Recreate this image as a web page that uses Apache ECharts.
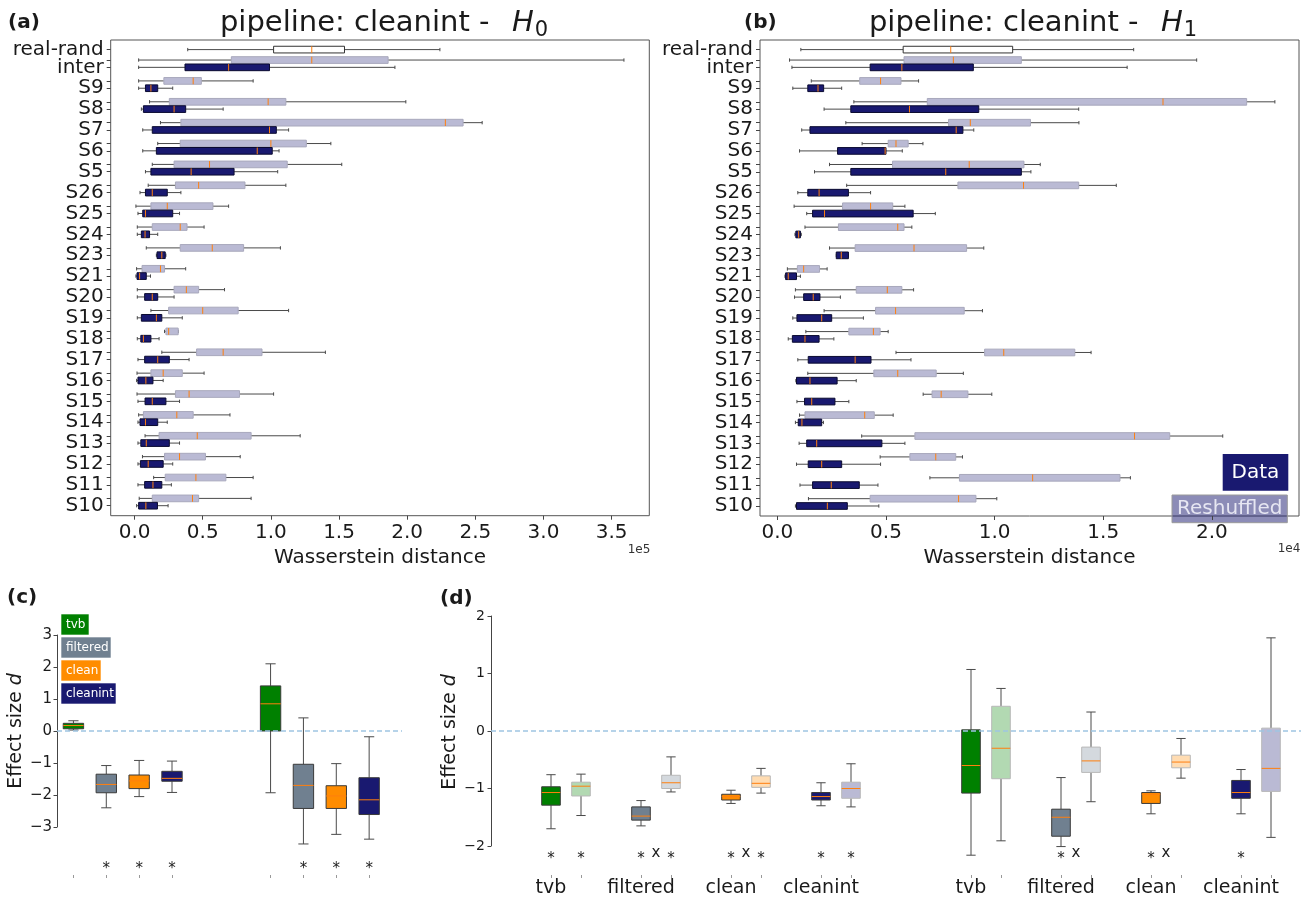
<!DOCTYPE html>
<html><head><meta charset="utf-8">
<script src="https://cdn.jsdelivr.net/npm/echarts@6/dist/echarts.min.js"></script>
<style>html,body{margin:0;padding:0;background:#fff}#c{width:1306px;height:899px}</style>
</head><body><div id="c"></div>
<script>
// ================= DATA =================
// Panels (a) and (b): categories, top to bottom (real-rand drawn above "inter")
const abCategories = ['inter','S9','S8','S7','S6','S5','S26','S25','S24','S23','S21','S20','S19','S18','S17','S16','S15','S14','S13','S12','S11','S10'];
const realRandLabel = 'real-rand';
// box stats: [whiskerLow, q1, median, q3, whiskerHigh]
// (a) H0, units of 1e5
const aRealRand = [0.39, 1.02, 1.30, 1.54, 2.24];
const aData = [
  [0.03,0.37,0.69,0.99,1.91],[0.03,0.08,0.12,0.17,0.28],[0.05,0.065,0.29,0.375,0.65],[0.06,0.13,0.99,1.04,1.13],
  [0.06,0.16,0.90,1.01,1.06],[0.08,0.12,0.415,0.73,1.05],[0.04,0.08,0.13,0.24,0.34],[0.025,0.06,0.08,0.28,0.33],
  [0.02,0.05,0.077,0.11,0.17],[0.16,0.165,0.20,0.225,0.23],[0.01,0.018,0.037,0.086,0.117],[0.02,0.074,0.13,0.17,0.29],
  [0.02,0.05,0.16,0.20,0.35],[0.02,0.046,0.065,0.12,0.18],[0.025,0.074,0.17,0.255,0.40],[0.015,0.025,0.083,0.135,0.21],
  [0.025,0.077,0.13,0.23,0.33],[0.025,0.04,0.08,0.17,0.24],[0.025,0.046,0.086,0.255,0.33],[0.025,0.043,0.10,0.21,0.28],
  [0.025,0.074,0.135,0.20,0.27],[0.015,0.03,0.083,0.168,0.246]
];
const aReshuffled = [
  [0.03,0.71,1.30,1.86,3.59],[0.03,0.215,0.43,0.49,0.87],[0.11,0.255,0.98,1.11,1.99],[0.19,0.34,2.28,2.41,2.55],
  [0.17,0.335,1.00,1.26,1.44],[0.13,0.29,0.55,1.12,1.52],[0.10,0.30,0.47,0.81,1.11],[0.01,0.12,0.24,0.575,0.69],
  [0.02,0.13,0.335,0.385,0.51],[0.086,0.335,0.57,0.80,1.07],[0.015,0.055,0.19,0.22,0.375],[0.02,0.29,0.38,0.47,0.66],
  [0.12,0.25,0.50,0.76,1.13],[0.22,0.23,0.25,0.32,0.32],[0.20,0.455,0.65,0.935,1.40],[0.018,0.12,0.21,0.35,0.51],
  [0.018,0.30,0.40,0.77,1.02],[0.03,0.065,0.31,0.43,0.70],[0.077,0.18,0.46,0.855,1.215],[0.058,0.22,0.33,0.52,0.775],
  [0.14,0.225,0.45,0.67,0.87],[0.034,0.13,0.425,0.47,0.855]
];
// (b) H1, units of 1e4
const bRealRand = [0.108, 0.579, 0.798, 1.083, 1.64];
const bData = [
  [0.067,0.427,0.573,0.902,1.61],[0.071,0.14,0.187,0.213,0.296],[0.215,0.338,0.608,0.927,1.387],[0.112,0.15,0.823,0.854,0.904],
  [0.102,0.277,0.496,0.50,0.575],[0.171,0.338,0.775,1.123,1.167],[0.094,0.14,0.192,0.327,0.429],[0.135,0.162,0.217,0.625,0.727],
  [0.081,0.085,0.098,0.106,0.11],[0.271,0.271,0.294,0.327,0.327],[0.035,0.038,0.05,0.088,0.106],[0.079,0.121,0.165,0.196,0.29],
  [0.071,0.09,0.204,0.25,0.396],[0.05,0.069,0.127,0.192,0.26],[0.094,0.142,0.358,0.431,0.615],[0.085,0.088,0.15,0.275,0.363],
  [0.09,0.125,0.158,0.265,0.329],[0.083,0.096,0.113,0.204,0.212],[0.10,0.135,0.181,0.481,0.587],[0.088,0.142,0.204,0.296,0.475],
  [0.104,0.162,0.248,0.377,0.463],[0.083,0.088,0.230,0.322,0.467]
];
const bReshuffled = [
  [0.056,0.583,0.81,1.123,1.93],[0.156,0.379,0.475,0.569,0.65],[0.352,0.69,1.775,2.16,2.29],[0.315,0.788,0.888,1.165,1.388],
  [0.39,0.51,0.546,0.602,0.67],[0.24,0.53,0.883,1.135,1.21],[0.319,0.831,1.133,1.387,1.56],[0.077,0.30,0.429,0.531,0.587],
  [0.127,0.281,0.554,0.583,0.619],[0.24,0.358,0.629,0.871,0.95],[0.046,0.092,0.121,0.194,0.229],[0.083,0.363,0.506,0.573,0.627],
  [0.215,0.452,0.544,0.86,0.944],[0.131,0.329,0.442,0.473,0.51],[0.546,0.954,1.042,1.369,1.444],[0.14,0.444,0.554,0.731,0.856],
  [0.671,0.712,0.754,0.877,0.987],[0.102,0.127,0.402,0.446,0.533],[0.388,0.633,1.644,1.806,2.05],[0.473,0.61,0.729,0.821,0.852],
  [0.702,0.838,1.175,1.577,1.625],[0.143,0.427,0.834,0.914,1.01]
];
const aTicks = [0,0.5,1,1.5,2,2.5,3,3.5];
const bTicks = [0,0.5,1,1.5,2];

// Panels (c) and (d)
const pipelines = ['tvb','filtered','clean','cleanint'];
const cGroup1 = [[0.03,0.07,0.17,0.24,0.32],[-2.40,-1.93,-1.67,-1.35,-1.08],[-2.05,-1.80,-1.56,-1.375,-0.92],[-1.92,-1.57,-1.48,-1.26,-0.94]];
const cGroup2 = [[-1.93,0.0,0.85,1.41,2.10],[-3.53,-2.42,-1.70,-1.04,0.41],[-3.23,-2.42,-2.03,-1.71,-1.02],[-3.38,-2.61,-2.15,-1.46,-0.18]];
const cSig1 = [false,true,true,true];
const cSig2 = [false,true,true,true];
const dGroup1Data = [[-1.70,-1.29,-1.07,-0.97,-0.76],[-1.65,-1.55,-1.48,-1.32,-1.21],[-1.26,-1.20,-1.14,-1.10,-1.03],[-1.30,-1.20,-1.14,-1.07,-0.90]];
const dGroup1Resh = [[-1.47,-1.13,-0.96,-0.89,-0.75],[-1.06,-1.00,-0.90,-0.77,-0.45],[-1.08,-0.98,-0.91,-0.78,-0.65],[-1.32,-1.17,-1.00,-0.89,-0.57]];
const dGroup2Data = [[-2.16,-1.08,-0.60,0.02,1.07],[-2.01,-1.83,-1.50,-1.36,-0.81],[-1.44,-1.26,-1.10,-1.07,-1.04],[-1.44,-1.17,-1.07,-0.86,-0.67]];
const dGroup2Resh = [[-1.91,-0.83,-0.30,0.43,0.74],[-1.23,-0.72,-0.52,-0.28,0.33],[-0.82,-0.64,-0.54,-0.42,-0.13],[-1.85,-1.05,-0.65,0.05,1.62]];
const dSigData1 = [true,true,true,true];
const dSigResh1 = [true,true,true,true];
const dSigData2 = [false,true,true,true];
const dSigResh2 = [false,false,false,false];
const dCross1 = [false,true,true,false];
const dCross2 = [false,true,true,false];

// ================= LAYOUT / STYLE =================
const FF = '"DejaVu Sans", sans-serif';
const TXT = '#1a1a1a';
const colors = ['#008000','#708090','#ff8c00','#191970'];
const lightColors = ['#b2d9b2','#d4d9de','#ffdcb2','#babad4'];
const LIGHT_OFF = 0.35, RR_POS = 21.85, BOX_H = 0.32, VBOX_W = 0.62;
const nCat = abCategories.length;
const catPos = i => nCat - 1 - i;

function labelFor(v) {
  if (Math.abs(v - RR_POS) < 1e-6) return realRandLabel;
  const i = nCat - 1 - Math.round(v);
  return abCategories[i] || '';
}
const abLabelVals = abCategories.map((c,i)=>catPos(i)).concat([RR_POS]);
const abTickVals = abCategories.map((c,i)=>catPos(i)).concat(abCategories.map((c,i)=>catPos(i)+LIGHT_OFF)).concat([RR_POS]);

function hBox(kind) {
  const sty = {data:{fill:'#191970', stroke:'#0a0a30'}, resh:{fill:'#babad4', stroke:'#a8a8bc'}, rr:{fill:'#ffffff', stroke:'#333'}}[kind];
  return function(params, api) {
    const y = api.value(0);
    const P = [1,2,3,4,5].map(i => api.coord([api.value(i), y]));
    const h = Math.abs(api.size([0, BOX_H])[1]);
    const cy = P[0][1], cap = h * 0.5, wc = '#4a4a4a';
    return {type:'group', children:[
      {type:'line', shape:{x1:P[0][0], y1:cy, x2:P[1][0], y2:cy}, style:{stroke:wc, lineWidth:1}},
      {type:'line', shape:{x1:P[3][0], y1:cy, x2:P[4][0], y2:cy}, style:{stroke:wc, lineWidth:1}},
      {type:'line', shape:{x1:P[0][0], y1:cy-cap/2, x2:P[0][0], y2:cy+cap/2}, style:{stroke:wc, lineWidth:1}},
      {type:'line', shape:{x1:P[4][0], y1:cy-cap/2, x2:P[4][0], y2:cy+cap/2}, style:{stroke:wc, lineWidth:1}},
      {type:'rect', shape:{x:P[1][0], y:cy-h/2, width:Math.max(P[3][0]-P[1][0],1), height:h}, style:{fill:sty.fill, stroke:sty.stroke, lineWidth:1}},
      {type:'line', shape:{x1:P[2][0], y1:cy-h/2, x2:P[2][0], y2:cy+h/2}, style:{stroke:'#ff7f0e', lineWidth:1}}
    ]};
  };
}
function vBox(palette, edge) {
  return function(params, api) {
    const x = api.value(0);
    const P = [1,2,3,4,5].map(i => api.coord([x, api.value(i)]));
    const w = Math.abs(api.size([VBOX_W, 0])[0]);
    const cx = P[0][0], cap = w * 0.5, wc = '#4a4a4a';
    const fill = palette[params.dataIndex % 4];
    return {type:'group', children:[
      {type:'line', shape:{x1:cx, y1:P[0][1], x2:cx, y2:P[1][1]}, style:{stroke:wc, lineWidth:1}},
      {type:'line', shape:{x1:cx, y1:P[3][1], x2:cx, y2:P[4][1]}, style:{stroke:wc, lineWidth:1}},
      {type:'line', shape:{x1:cx-cap/2, y1:P[0][1], x2:cx+cap/2, y2:P[0][1]}, style:{stroke:wc, lineWidth:1}},
      {type:'line', shape:{x1:cx-cap/2, y1:P[4][1], x2:cx+cap/2, y2:P[4][1]}, style:{stroke:wc, lineWidth:1}},
      {type:'rect', shape:{x:cx-w/2, y:P[3][1], width:w, height:Math.max(P[1][1]-P[3][1],1)}, style:{fill:fill, stroke:edge, lineWidth:1}},
      {type:'line', shape:{x1:cx-w/2, y1:P[2][1], x2:cx+w/2, y2:P[2][1]}, style:{stroke:'#ff7f0e', lineWidth:1}}
    ]};
  };
}
function markText(txt, size) {
  return function(params, api) {
    const p = api.coord([api.value(0), api.value(1)]);
    return {type:'text', x:p[0], y:p[1], style:{text:txt, font: size+'px '+FF, fill:'#222', align:'center', verticalAlign:'middle'}};
  };
}

// items
const aRRItem = [[RR_POS].concat(aRealRand)];
const bRRItem = [[RR_POS].concat(bRealRand)];
const aDataItems = aData.map((s,i)=>[catPos(i)].concat(s));
const aReshItems = aReshuffled.map((s,i)=>[catPos(i)+LIGHT_OFF].concat(s));
const bDataItems = bData.map((s,i)=>[catPos(i)].concat(s));
const bReshItems = bReshuffled.map((s,i)=>[catPos(i)+LIGHT_OFF].concat(s));
const cPos = (g,i) => 1 + g*6 + i;
const cItems = cGroup1.map((s,i)=>[cPos(0,i)].concat(s)).concat(cGroup2.map((s,i)=>[cPos(1,i)].concat(s)));
const cStarY = -4.32;
const cStars = [];
cSig1.forEach((f,i)=>{ if (f) cStars.push([cPos(0,i), cStarY]); });
cSig2.forEach((f,i)=>{ if (f) cStars.push([cPos(1,i), cStarY]); });
const dPos = (g,i) => 1 + g*14 + i*3;
const dDataItems = dGroup1Data.map((s,i)=>[dPos(0,i)].concat(s)).concat(dGroup2Data.map((s,i)=>[dPos(1,i)].concat(s)));
const dReshItems = dGroup1Resh.map((s,i)=>[dPos(0,i)+1].concat(s)).concat(dGroup2Resh.map((s,i)=>[dPos(1,i)+1].concat(s)));
const dStarY = -2.22, dCrossY = -2.13;
const dStars = [], dCrossPts = [];
[[dSigData1,0,0],[dSigResh1,0,1],[dSigData2,1,0],[dSigResh2,1,1]].forEach(([arr,g,off])=>arr.forEach((f,i)=>{ if (f) dStars.push([dPos(g,i)+off, dStarY]); }));
[[dCross1,0],[dCross2,1]].forEach(([arr,g])=>arr.forEach((f,i)=>{ if (f) dCrossPts.push([dPos(g,i)+0.5, dCrossY]); }));
const dLabelVals = [0,1].flatMap(g=>pipelines.map((p,i)=>dPos(g,i)));
const dTickVals = dLabelVals.concat(dLabelVals.map(v=>v+1));
const cTickVals = [0,1].flatMap(g=>pipelines.map((p,i)=>cPos(g,i)));

const minus = v => (v < 0 ? '\u2212' + Math.abs(v) : String(v));

// text measuring for titles
const mctx = document.createElement('canvas').getContext('2d');
function tw(t, font){ mctx.font = font; return mctx.measureText(t).width; }
function titleEls(cx, cy, sub) {
  const main = 'pipeline: cleanint -  ';
  const fM = '29px ' + FF, fI = 'italic 29px ' + FF, fS = '21px ' + FF;
  const wM = tw(main, fM) + 4, wH = tw('H', fI) + 1, wS = tw(sub, fS);
  const x0 = cx - (wM + wH + wS) / 2;
  return [
    {type:'text', x:x0, y:cy, style:{text:main, font:fM, fill:TXT, align:'left', verticalAlign:'middle'}},
    {type:'text', x:x0+wM, y:cy, style:{text:'H', font:fI, fill:TXT, align:'left', verticalAlign:'middle'}},
    {type:'text', x:x0+wM+wH, y:cy+8, style:{text:sub, font:fS, fill:TXT, align:'left', verticalAlign:'middle'}}
  ];
}

const gA = {left:110.7, top:40, width:538.6, height:475.7};
const gB = {left:760, top:40, width:539, height:476};
const gC = {left:57, top:635, width:345, height:192};
const gD = {left:491, top:616, width:810, height:230};

function abXAxis(grid, min, max, ticks) {
  return {type:'value', gridIndex:grid, min:min, max:max,
    axisLine:{show:false, onZero:false}, splitLine:{show:false},
    axisTick:{show:true, customValues:ticks, length:4, lineStyle:{color:'#444'}},
    axisLabel:{customValues:ticks, formatter:v=>v.toFixed(1), fontSize:20, fontFamily:FF, color:TXT, margin:7},
    name:'Wasserstein distance', nameLocation:'middle', nameGap:26,
    nameTextStyle:{fontSize:20, fontFamily:FF, color:TXT}};
}
function abYAxis(grid) {
  return {type:'value', gridIndex:grid, min:-0.479, max:22.31,
    axisLine:{show:false, onZero:false}, splitLine:{show:false},
    axisTick:{show:true, customValues:abTickVals, length:4, lineStyle:{color:'#444'}},
    axisLabel:{customValues:abLabelVals, formatter:labelFor, fontSize:20, fontFamily:FF, color:TXT, margin:7}};
}
const zeroLine = {silent:true, symbol:'none', label:{show:false}, data:[{yAxis:0}],
  lineStyle:{type:[5,3], color:'#9fc5e2', width:1.5}};

const legendC = [];
[['tvb',614,28],['filtered',637,50],['clean',660,40],['cleanint',683,55]].forEach(([t,y,w],i)=>{
  legendC.push({type:'rect', shape:{x:61, y:y, width:w, height:21}, style:{fill:colors[i], stroke:'rgba(255,255,255,0.6)', lineWidth:1}});
  legendC.push({type:'text', x:66, y:y+10.5, style:{text:t, font:'12px '+FF, fill:'#ffffff', align:'left', verticalAlign:'middle'}});
});

const option = {
  animation:false,
  backgroundColor:'#ffffff',
  textStyle:{fontFamily:FF},
  grid:[
    Object.assign({show:true, borderColor:'#555', borderWidth:1, outerBoundsMode:'none'}, gA),
    Object.assign({show:true, borderColor:'#555', borderWidth:1, outerBoundsMode:'none'}, gB),
    Object.assign({show:false, outerBoundsMode:'none'}, gC),
    Object.assign({show:false, outerBoundsMode:'none'}, gD)
  ],
  xAxis:[
    abXAxis(0, -0.175, 3.776, aTicks),
    abXAxis(1, -0.080, 2.401, bTicks),
    {type:'value', gridIndex:2, min:0.5, max:11, offset:48, axisLine:{show:false, onZero:false}, splitLine:{show:false},
      axisTick:{show:true, customValues:cTickVals, length:3, lineStyle:{color:'#999'}}, axisLabel:{show:false}},
    {type:'value', gridIndex:3, min:-1, max:26, offset:29, axisLine:{show:false, onZero:false}, splitLine:{show:false},
      axisTick:{show:true, customValues:dTickVals, length:3, lineStyle:{color:'#999'}},
      axisLabel:{customValues:dLabelVals, formatter:v=>pipelines[dLabelVals.indexOf(v) % 4] || '', fontSize:19, fontFamily:FF, color:TXT, margin:4}}
  ],
  yAxis:[
    abYAxis(0), abYAxis(1),
    {type:'value', gridIndex:2, min:-3, max:3, interval:1, splitLine:{show:false},
      axisLine:{show:true, onZero:false, lineStyle:{color:'#444'}}, axisTick:{show:true, length:3.5, lineStyle:{color:'#444'}},
      axisLabel:{formatter:minus, fontSize:15, fontFamily:FF, color:TXT, margin:5}},
    {type:'value', gridIndex:3, min:-2, max:2, interval:1, splitLine:{show:false},
      axisLine:{show:true, onZero:false, lineStyle:{color:'#444'}}, axisTick:{show:true, length:3.5, lineStyle:{color:'#444'}},
      axisLabel:{formatter:minus, fontSize:14, fontFamily:FF, color:TXT, margin:6}}
  ],
  series:[
    {type:'custom', name:'a-real-rand', xAxisIndex:0, yAxisIndex:0, renderItem:hBox('rr'), data:aRRItem, encode:{x:[1,2,3,4,5], y:0}},
    {type:'custom', name:'a-reshuffled', xAxisIndex:0, yAxisIndex:0, renderItem:hBox('resh'), data:aReshItems, encode:{x:[1,2,3,4,5], y:0}},
    {type:'custom', name:'a-data', xAxisIndex:0, yAxisIndex:0, renderItem:hBox('data'), data:aDataItems, encode:{x:[1,2,3,4,5], y:0}},
    {type:'custom', name:'b-real-rand', xAxisIndex:1, yAxisIndex:1, renderItem:hBox('rr'), data:bRRItem, encode:{x:[1,2,3,4,5], y:0}},
    {type:'custom', name:'b-reshuffled', xAxisIndex:1, yAxisIndex:1, renderItem:hBox('resh'), data:bReshItems, encode:{x:[1,2,3,4,5], y:0}},
    {type:'custom', name:'b-data', xAxisIndex:1, yAxisIndex:1, renderItem:hBox('data'), data:bDataItems, encode:{x:[1,2,3,4,5], y:0}},
    {type:'custom', name:'c-boxes', xAxisIndex:2, yAxisIndex:2, renderItem:vBox(colors,'#3a3a3a'), data:cItems, encode:{x:0, y:[1,2,3,4,5]}, clip:false, markLine:zeroLine, z:3},
    {type:'custom', name:'c-stars', xAxisIndex:2, yAxisIndex:2, renderItem:markText('*',15), data:cStars, encode:{x:0, y:1}, clip:false},
    {type:'custom', name:'d-reshuffled', xAxisIndex:3, yAxisIndex:3, renderItem:vBox(lightColors,'#b8b8b8'), data:dReshItems, encode:{x:0, y:[1,2,3,4,5]}, clip:false, markLine:zeroLine, z:3},
    {type:'custom', name:'d-data', xAxisIndex:3, yAxisIndex:3, renderItem:vBox(colors,'#3a3a3a'), data:dDataItems, encode:{x:0, y:[1,2,3,4,5]}, clip:false, z:3},
    {type:'custom', name:'d-stars', xAxisIndex:3, yAxisIndex:3, renderItem:markText('*',15), data:dStars, encode:{x:0, y:1}, clip:false},
    {type:'custom', name:'d-cross', xAxisIndex:3, yAxisIndex:3, renderItem:markText('x',15), data:dCrossPts, encode:{x:0, y:1}, clip:false}
  ],
  graphic:[].concat(
    titleEls(384, 23, '0'),
    titleEls(1033, 23, '1'),
    [
      {type:'text', x:8, y:23, style:{text:'(a)', font:'bold 20px '+FF, fill:TXT, align:'left', verticalAlign:'middle'}},
      {type:'text', x:744, y:23, style:{text:'(b)', font:'bold 20px '+FF, fill:TXT, align:'left', verticalAlign:'middle'}},
      {type:'text', x:7, y:598, style:{text:'(c)', font:'bold 20px '+FF, fill:TXT, align:'left', verticalAlign:'middle'}},
      {type:'text', x:440, y:599, style:{text:'(d)', font:'bold 20px '+FF, fill:TXT, align:'left', verticalAlign:'middle'}},
      {type:'text', x:639, y:550, style:{text:'1e5', font:'12px '+FF, fill:'#333', align:'center', verticalAlign:'middle'}},
      {type:'text', x:1289, y:549, style:{text:'1e4', font:'12px '+FF, fill:'#333', align:'center', verticalAlign:'middle'}},
      {type:'text', x:16, y:731, rotation:Math.PI/2, style:{text:'Effect size {i|d}', font:'19px '+FF, fill:TXT, align:'center', verticalAlign:'middle', rich:{i:{fontStyle:'italic', fontSize:19, fontFamily:FF, fill:TXT}}}},
      {type:'text', x:450, y:732, rotation:Math.PI/2, style:{text:'Effect size {i|d}', font:'19px '+FF, fill:TXT, align:'center', verticalAlign:'middle', rich:{i:{fontStyle:'italic', fontSize:19, fontFamily:FF, fill:TXT}}}},
      {type:'rect', shape:{x:1222.7, y:454, width:65.6, height:36.7}, style:{fill:'#191970'}},
      {type:'text', x:1255.5, y:472.3, style:{text:'Data', font:'20px '+FF, fill:'#ffffff', align:'center', verticalAlign:'middle'}},
      {type:'rect', shape:{x:1172, y:495, width:115.3, height:27.7}, style:{fill:'rgba(25,25,112,0.5)', stroke:'#9a9a9a', lineWidth:1}},
      {type:'text', x:1229.7, y:508.8, style:{text:'Reshuffled', font:'20px '+FF, fill:'#e6e6f2', align:'center', verticalAlign:'middle'}}
    ],
    legendC
  )
};
const chart = echarts.init(document.getElementById('c'), null, {renderer:'canvas'});
chart.setOption(option);
</script></body></html>
